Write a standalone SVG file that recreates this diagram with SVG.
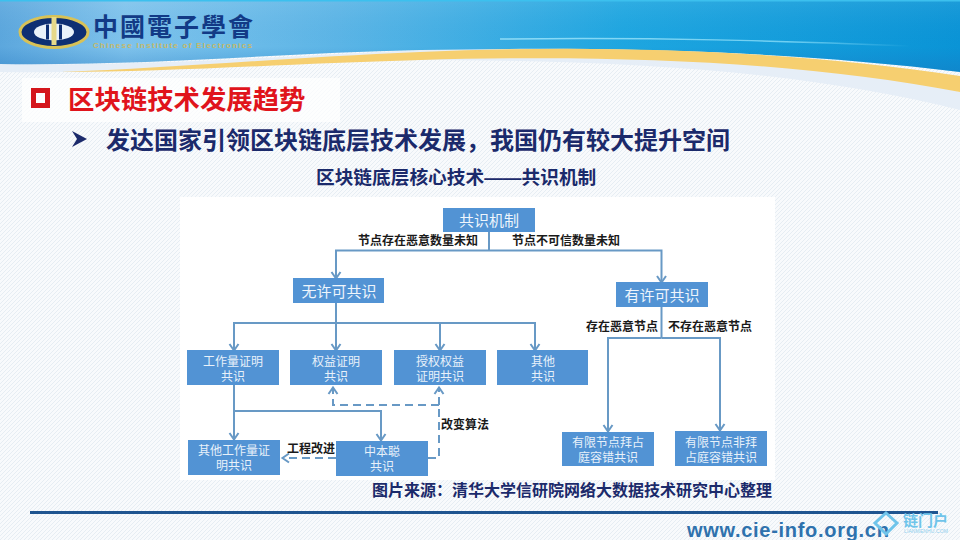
<svg xmlns="http://www.w3.org/2000/svg" width="960" height="540" viewBox="0 0 960 540">
<style>
text{font-family:"Liberation Sans","Noto Sans CJK SC",sans-serif}
.box{fill:#5293d4}
.t15{fill:#eef5fc;font-size:15px;text-anchor:middle}
.t12{fill:#e8f1fa;font-size:12px;text-anchor:middle}
.lab{fill:#1a1a1a;font-size:12px;font-weight:700}
.c{fill:none;stroke:#6899c5;stroke-width:2}
.a{marker-end:url(#arr)}
.d{stroke-dasharray:8 5}
.title2{fill:#1b2a6b;font-weight:700}
</style>
<defs>
<pattern id="hatch" width="4" height="4" patternUnits="userSpaceOnUse">
<rect width="4" height="4" fill="#f8fafc"/>
<path d="M0,4L4,0" stroke="#e6edf3" stroke-width="1"/>
</pattern>
<linearGradient id="sky" x1="0" y1="0" x2="1" y2="0">
<stop offset="0" stop-color="#5ca7dd"/><stop offset=".13" stop-color="#7fc3ec"/><stop offset=".35" stop-color="#5cb5e6"/><stop offset=".65" stop-color="#1ea6e0"/><stop offset="1" stop-color="#0a94d6"/>
</linearGradient>
<linearGradient id="shade" x1="0" y1="0" x2="0" y2="1">
<stop offset="0" stop-color="#fff" stop-opacity=".08"/><stop offset=".65" stop-color="#1a6fc0" stop-opacity="0"/><stop offset="1" stop-color="#1a6fb8" stop-opacity=".35"/>
</linearGradient>
<linearGradient id="glint" x1="0" y1="0" x2="1" y2="0">
<stop offset="0" stop-color="#8fdcf6"/><stop offset=".7" stop-color="#6fcff2"/><stop offset="1" stop-color="#6fcff2" stop-opacity="0"/>
</linearGradient>
<marker id="arr" markerUnits="userSpaceOnUse" markerWidth="14" markerHeight="14" refX="11" refY="7" orient="auto">
<path d="M4,2.500L10.500,7L4,11.500" fill="none" stroke="#6899c5" stroke-width="2"/>
</marker>
</defs>

<g id="background">
<rect width="960" height="540" fill="url(#hatch)"/>
<path d="M0,64 C150,66 250,58 420,50 C600,44 780,48 960,92 L960,110 C800,70 620,60 420,60 C280,62 150,74 0,72Z" fill="#e6eef7"/>
<path d="M0,0H960V72C800,52 620,46 420,50 C280,53 150,66 0,64Z" fill="url(#sky)"/>
<path d="M0,0H960V72C800,52 620,46 420,50 C280,53 150,66 0,64Z" fill="url(#shade)"/>
<path d="M500,39 C660,37 780,41 910,46" fill="none" stroke="url(#glint)" stroke-width="1.500"/>
<path d="M60,72 C170,68 280,58 420,52 C600,44 790,50 960,76 L960,92 C800,62 620,54 420,60 C280,64 170,72 60,72Z" fill="#f6cf70"/>
<rect x="0" y="0" width="960" height="1.500" fill="#3cc0ee"/>
</g>

<g id="logo">
<ellipse cx="54" cy="32" rx="34" ry="15.500" fill="#0d2f73" stroke="#d8c257" stroke-width="3"/>
<ellipse cx="54" cy="32" rx="20" ry="8.500" fill="#e8f2fa"/>
<rect x="51.500" y="17" width="5" height="28" fill="#e6d98a"/>
<path d="M46,24.500H49V39.500H46ZM59,24.500H62V39.500H59Z" fill="#0d2f73"/>
<text x="93" y="35.500" font-size="25" font-weight="700" letter-spacing="2" fill="#123a86" style="font-family:'Liberation Sans','Noto Sans CJK TC',sans-serif">中國電子學會</text>
<text x="93" y="48" font-size="8" font-weight="700" fill="#c6b968" textLength="159">Chinese Institute of Electronics</text>
</g>

<g id="heading">
<rect x="22" y="78" width="318" height="44" fill="#fff" opacity=".7"/>
<rect x="33.500" y="90.500" width="14" height="15" fill="none" stroke="#d4161c" stroke-width="5"/>
<text x="68" y="109" font-size="26.400" font-weight="700" fill="#e0141c">区块链技术发展趋势</text>
<path d="M72,131L87,139L72,147L77,139Z" fill="#1b2a6b"/>
<text x="106" y="149" font-size="24" class="title2">发达国家引领区块链底层技术发展&#xFF0C;我国仍有较大提升空间</text>
<text x="316" y="184" font-size="18.700" class="title2">区块链底层核心技术——共识机制</text>
</g>

<rect id="panel" x="180" y="197" width="595" height="283" fill="#fff"/>

<g id="connectors">
<path class="c" d="M489,232V250.500"/>
<path class="c a" d="M489,250.500H336V279"/>
<path class="c a" d="M489,250.500H661.500V283"/>
<path class="c" d="M336,303V323"/>
<path class="c a" d="M336,323H234V351"/>
<path class="c a" d="M336,323V351"/>
<path class="c a" d="M336,323H440V351"/>
<path class="c a" d="M336,323H535V351"/>
<path class="c" d="M661.500,307V338"/>
<path class="c a" d="M661.500,338H608V432"/>
<path class="c a" d="M661.500,338H720V431"/>
<path class="c a" d="M234,385V440"/>
<path class="c a" d="M234,411H381V441"/>
<path class="c a d" d="M336,458H282"/>
<path class="c d" d="M428,458H439V405"/>
<path class="c a d" d="M439,405V387"/>
<path class="c a d" d="M439,405H333V387"/>
</g>

<g id="n-root"><rect class="box" x="443" y="208" width="92" height="24"/><text class="t15" x="489" y="226">共识机制</text></g>
<g id="n-permissionless"><rect class="box" x="293" y="278" width="91" height="25"/><text class="t15" x="339" y="296.500">无许可共识</text></g>
<g id="n-permissioned"><rect class="box" x="616" y="282" width="92" height="25"/><text class="t15" x="662" y="300.500">有许可共识</text></g>
<g id="n-pow"><rect class="box" x="187" y="350" width="92" height="35"/><text class="t12" x="233" y="365.500">工作量证明</text><text class="t12" x="233" y="380.500">共识</text></g>
<g id="n-pos"><rect class="box" x="290" y="350" width="92" height="35"/><text class="t12" x="336" y="365.500">权益证明</text><text class="t12" x="336" y="380.500">共识</text></g>
<g id="n-dpos"><rect class="box" x="394" y="350" width="92" height="35"/><text class="t12" x="440" y="365.500">授权权益</text><text class="t12" x="440" y="380.500">证明共识</text></g>
<g id="n-other"><rect class="box" x="497" y="350" width="91" height="35"/><text class="t12" x="543" y="365.500">其他</text><text class="t12" x="543" y="380.500">共识</text></g>
<g id="n-otherpow"><rect class="box" x="188" y="440" width="92" height="35"/><text class="t12" x="234" y="455">其他工作量证</text><text class="t12" x="234" y="470">明共识</text></g>
<g id="n-nakamoto"><rect class="box" x="336" y="441" width="92" height="35"/><text class="t12" x="382" y="456">中本聪</text><text class="t12" x="382" y="471">共识</text></g>
<g id="n-bft"><rect class="box" x="562" y="432" width="92" height="34"/><text class="t12" x="608" y="447">有限节点拜占</text><text class="t12" x="608" y="462">庭容错共识</text></g>
<g id="n-cft"><rect class="box" x="675" y="431" width="92" height="35"/><text class="t12" x="721" y="447">有限节点非拜</text><text class="t12" x="721" y="462">占庭容错共识</text></g>

<g id="labels">
<text class="lab" x="358" y="245">节点存在恶意数量未知</text>
<text class="lab" x="512" y="245">节点不可信数量未知</text>
<text class="lab" x="586" y="331">存在恶意节点</text>
<text class="lab" x="668" y="331">不存在恶意节点</text>
<text class="lab" x="441" y="429">改变算法</text>
<text class="lab" x="287" y="453">工程改进</text>
</g>

<text id="source" x="372" y="496" font-size="16" class="title2">图片来源&#xFF1A;清华大学信研院网络大数据技术研究中心整理</text>

<g id="footer">
<rect x="30" y="511" width="908" height="3" fill="#1f5590"/>
<text x="687" y="537" font-size="20" font-weight="700" fill="#2f72ad" letter-spacing=".7">www.cie-info.org.cn</text>
</g>

<g id="watermark">
<path d="M886,513L897,523L886,534L875,523Z" fill="none" stroke="#6fc4ea" stroke-width="3"/>
<text x="903" y="526" font-size="15" font-weight="700" fill="#6fc4ea">链门户</text>
<text x="904" y="533" font-size="5" fill="#8fcfee" textLength="44">LIANMENHU.COM</text>
</g>
</svg>
